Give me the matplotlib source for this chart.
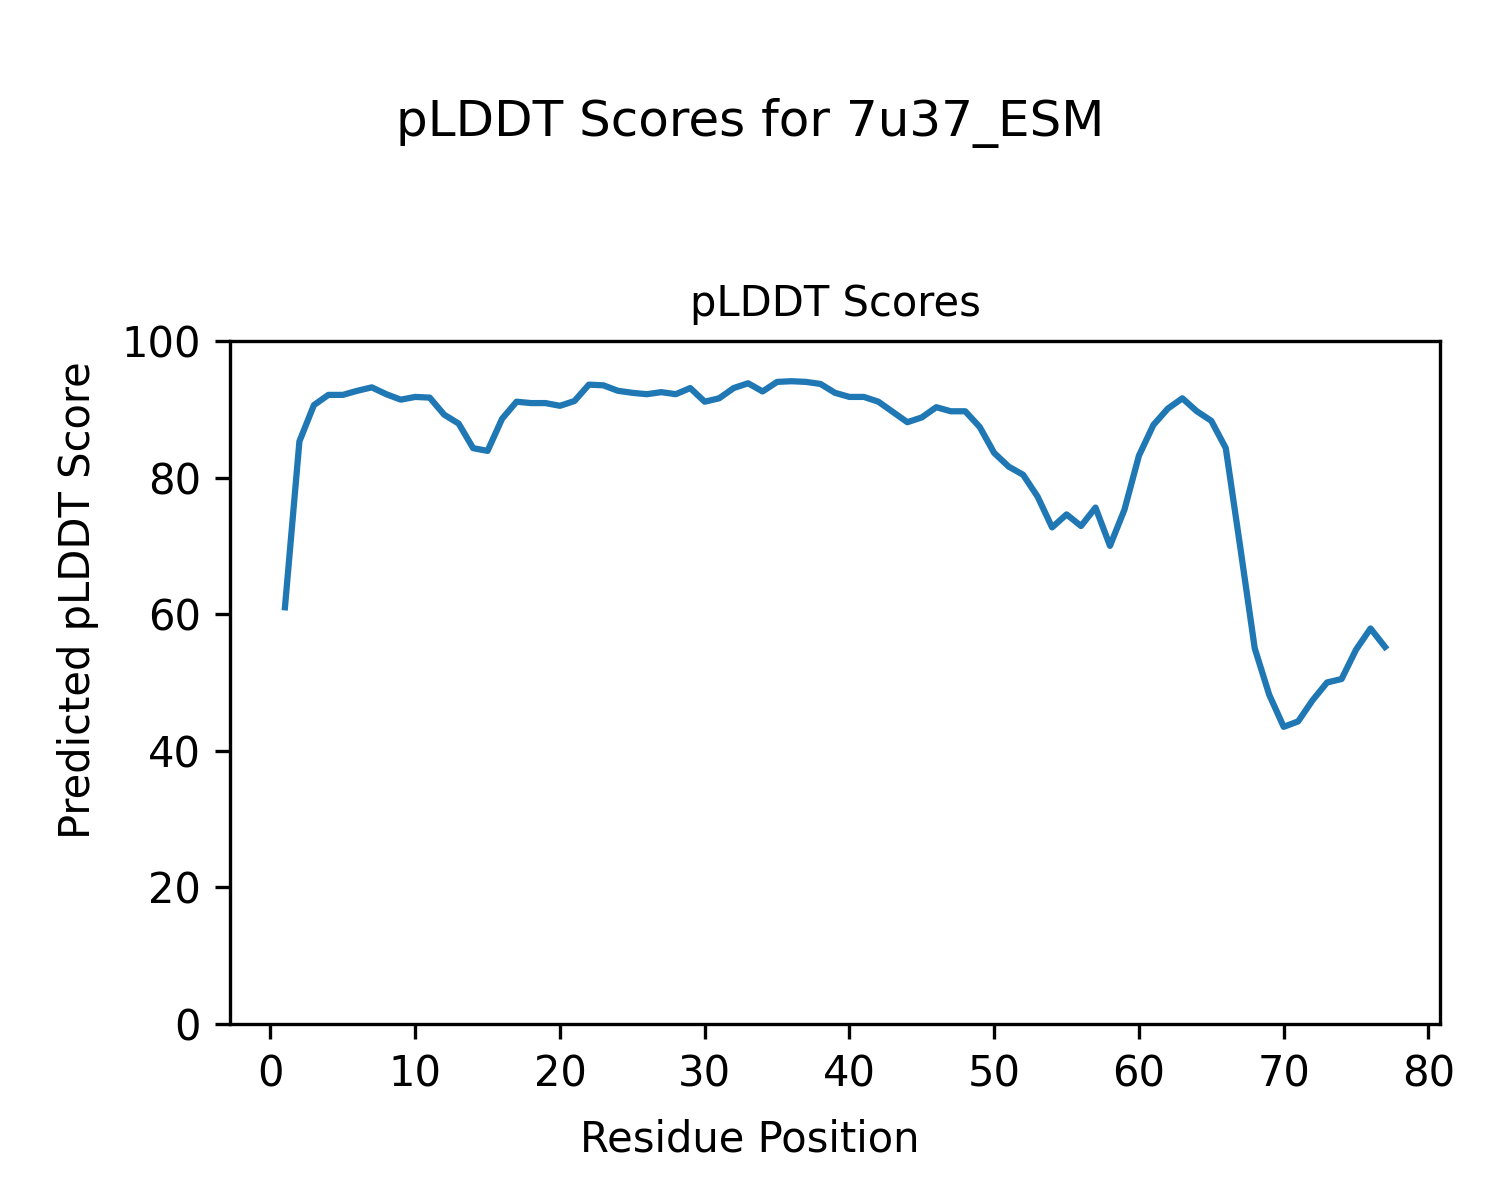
import matplotlib
matplotlib.use("Agg")
import matplotlib.pyplot as plt

residues = list(range(1, 78))
plddt = [
    61.0, 85.3, 90.6, 92.1, 92.1, 92.7, 93.2, 92.2, 91.4, 91.8,
    91.7, 89.2, 87.9, 84.3, 83.9, 88.6, 91.1, 90.9, 90.9, 90.5,
    91.2, 93.6, 93.5, 92.7, 92.4, 92.2, 92.5, 92.2, 93.1, 91.1,
    91.6, 93.1, 93.8, 92.6, 94.0, 94.1, 94.0, 93.7, 92.4, 91.8,
    91.8, 91.1, 89.6, 88.1, 88.8, 90.3, 89.7, 89.7, 87.4, 83.6,
    81.6, 80.4, 77.2, 72.7, 74.6, 72.9, 75.6, 70.0, 75.3, 83.2,
    87.7, 90.1, 91.6, 89.7, 88.3, 84.3, 69.8, 55.0, 48.2, 43.5,
    44.3, 47.4, 50.0, 50.5, 54.8, 57.9, 55.2,
]

fig = plt.figure(figsize=(5, 4), dpi=300)
ax = fig.add_axes([0.1533, 0.1467, 0.8067, 0.5692])
ax.plot(residues, plddt, color="#1f77b4", linewidth=1.5)
ax.set_ylim(0, 100)
ax.set_title("pLDDT Scores", fontsize=10)
fig.supxlabel("Residue Position", fontsize=10, y=0.033)
fig.supylabel("Predicted pLDDT Score", fontsize=10, x=0.038)
fig.suptitle("pLDDT Scores for 7u37_ESM", fontsize=12, y=0.918)
fig.savefig("out.png", dpi=300)
